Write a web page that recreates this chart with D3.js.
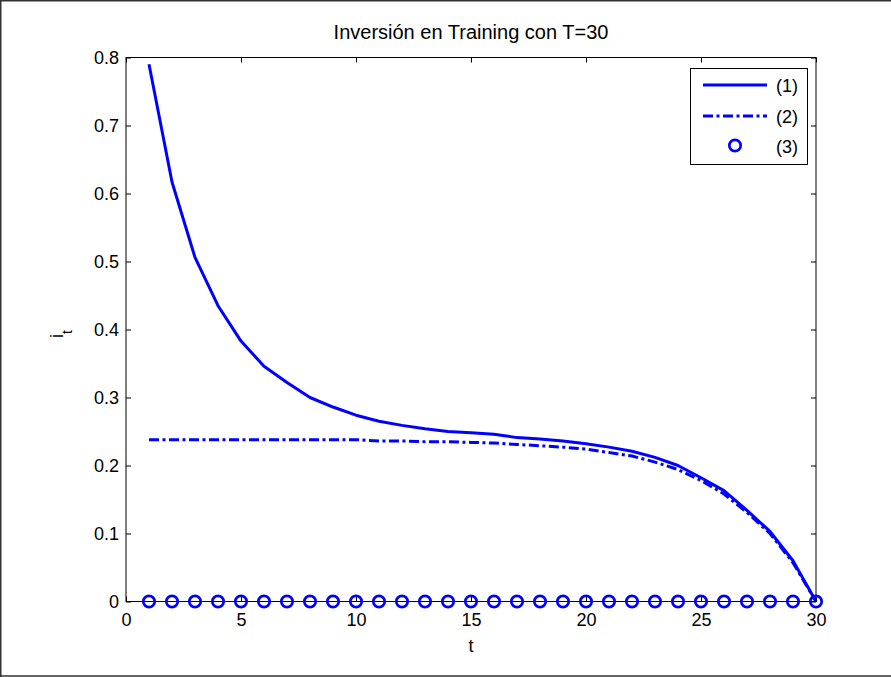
<!DOCTYPE html>
<html>
<head>
<meta charset="utf-8">
<script src="https://cdn.jsdelivr.net/npm/d3@7"></script>
<style>
  html, body { margin: 0; padding: 0; background: #fff; }
  svg { display: block; }
  text { font-family: "Liberation Sans", Arial, sans-serif; fill: #000; }
</style>
</head>
<body>
<svg id="chart" width="891" height="677"></svg>
<script>
// Periods 1..30
const periods = d3.range(1, 31);

// Investment path for each scenario
const series1 = [0.790, 0.617, 0.506, 0.435, 0.383, 0.346, 0.322, 0.300, 0.286, 0.274,
                 0.265, 0.259, 0.254, 0.250, 0.248, 0.246, 0.241, 0.239, 0.236, 0.232,
                 0.227, 0.221, 0.212, 0.200, 0.182, 0.163, 0.134, 0.103, 0.060, 0.000];
const series2 = [0.238, 0.238, 0.238, 0.238, 0.238, 0.238, 0.238, 0.238, 0.238, 0.238,
                 0.236, 0.236, 0.235, 0.235, 0.234, 0.233, 0.231, 0.229, 0.227, 0.224,
                 0.219, 0.214, 0.205, 0.194, 0.178, 0.158, 0.131, 0.100, 0.057, 0.000];
const series3 = [0, 0, 0, 0, 0, 0, 0, 0, 0, 0, 0, 0, 0, 0, 0,
                 0, 0, 0, 0, 0, 0, 0, 0, 0, 0, 0, 0, 0, 0, 0];

const legendLabels = ["(1)", "(2)", "(3)"];
const xTicks = [0, 5, 10, 15, 20, 25, 30];
const yTicks = [0, 0.1, 0.2, 0.3, 0.4, 0.5, 0.6, 0.7, 0.8];
const titleText = "Inversión en Training con T=30";

const svg = d3.select("#chart");
const W = 891, H = 677;
const plotLeft = 126, plotRight = 816, plotTop = 57.5, plotBottom = 601.5;

const x = d3.scaleLinear().domain([0, 30]).range([plotLeft, plotRight]);
const y = d3.scaleLinear().domain([0, 0.8]).range([plotBottom, plotTop]);

const blue = "#0000ff";
const lineW = 3;
const dashDot = "10,3.5,3,3.5";

// Figure frame (left, top, bottom edges)
svg.append("path")
  .attr("d", `M0.75,${H} L0.75,0.75 L${W},0.75 M0,${H - 1} L${W},${H - 1}`)
  .attr("fill", "none").attr("stroke", "#333").attr("stroke-width", 1.5);

// Series lines
const line = d3.line().x((d, i) => x(periods[i])).y(d => y(d));

svg.append("path").datum(series1)
  .attr("d", line).attr("fill", "none")
  .attr("stroke", blue).attr("stroke-width", lineW)
  .attr("stroke-linejoin", "round");

svg.append("path").datum(series2)
  .attr("d", line).attr("fill", "none")
  .attr("stroke", blue).attr("stroke-width", lineW)
  .attr("stroke-dasharray", dashDot);

// Axes box
svg.append("rect")
  .attr("x", plotLeft).attr("y", plotTop)
  .attr("width", plotRight - plotLeft).attr("height", plotBottom - plotTop)
  .attr("fill", "none").attr("stroke", "#000").attr("stroke-width", 1);

// Ticks pointing inward on all four sides
const tickLen = 5;
const xAxisB = d3.axisBottom(x).tickValues(xTicks).tickSizeInner(-tickLen).tickSizeOuter(0).tickPadding(12).tickFormat(d3.format("d"));
const xAxisT = d3.axisTop(x).tickValues(xTicks).tickSizeInner(-tickLen).tickSizeOuter(0).tickFormat("");
const yAxisL = d3.axisLeft(y).tickValues(yTicks).tickSizeInner(-tickLen).tickSizeOuter(0).tickPadding(7).tickFormat(d => d === 0 ? "0" : d3.format(".1f")(d));
const yAxisR = d3.axisRight(y).tickValues(yTicks).tickSizeInner(-tickLen).tickSizeOuter(0).tickFormat("");

function styleAxis(g) {
  g.select(".domain").remove();
  g.selectAll(".tick line").attr("stroke", "#000");
  g.selectAll(".tick text").attr("font-size", 18).attr("font-family", "Liberation Sans, Arial, sans-serif").attr("fill", "#000");
}

svg.append("g").attr("transform", `translate(0,${plotBottom})`).call(xAxisB).call(styleAxis);
svg.append("g").attr("transform", `translate(0,${plotTop})`).call(xAxisT).call(styleAxis);
svg.append("g").attr("transform", `translate(${plotLeft},0)`).call(yAxisL).call(styleAxis);
svg.append("g").attr("transform", `translate(${plotRight},0)`).call(yAxisR).call(styleAxis);

// Circle markers for series 3 (drawn over the axis line)
svg.append("g").selectAll("circle").data(series3).join("circle")
  .attr("cx", (d, i) => x(periods[i])).attr("cy", d => y(d))
  .attr("r", 5.7).attr("fill", "none")
  .attr("stroke", blue).attr("stroke-width", 2.7);

// Title and axis labels
svg.append("text").attr("x", (plotLeft + plotRight) / 2).attr("y", 38.5)
  .attr("text-anchor", "middle").attr("font-size", 20).text(titleText);

svg.append("text").attr("x", (plotLeft + plotRight) / 2).attr("y", 651.5)
  .attr("text-anchor", "middle").attr("font-size", 18).text("t");

const ylab = svg.append("text")
  .attr("transform", `translate(63,334) rotate(-90)`)
  .attr("text-anchor", "middle").attr("font-size", 18);
ylab.append("tspan").text("i");
ylab.append("tspan").attr("font-size", 14).attr("dy", 9).text("t");

// Legend
const lg = svg.append("g");
lg.append("rect").attr("x", 690.5).attr("y", 68.5).attr("width", 117).attr("height", 96)
  .attr("fill", "#fff").attr("stroke", "#000").attr("stroke-width", 1);
const rowsY = [85, 116, 145.5];
lg.append("line").attr("x1", 703).attr("x2", 767).attr("y1", rowsY[0]).attr("y2", rowsY[0])
  .attr("stroke", blue).attr("stroke-width", lineW);
lg.append("line").attr("x1", 703).attr("x2", 767).attr("y1", rowsY[1]).attr("y2", rowsY[1])
  .attr("stroke", blue).attr("stroke-width", lineW).attr("stroke-dasharray", dashDot);
lg.append("circle").attr("cx", 735).attr("cy", rowsY[2]).attr("r", 5.7)
  .attr("fill", "none").attr("stroke", blue).attr("stroke-width", 2.7);
lg.selectAll("text.lab").data(legendLabels).join("text").attr("class", "lab")
  .attr("x", 776).attr("y", (d, i) => rowsY[i] + 7)
  .attr("font-size", 18).text(d => d);
</script>
</body>
</html>
